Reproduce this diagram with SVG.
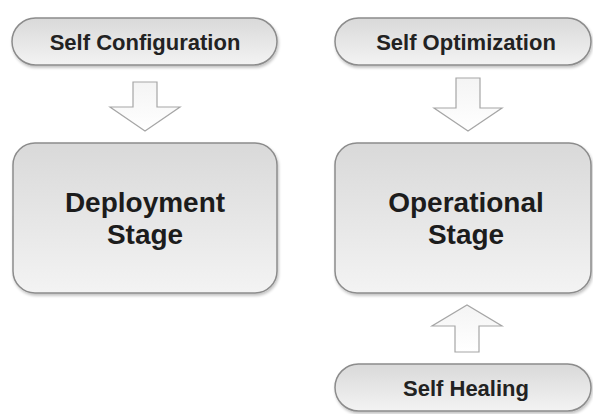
<svg xmlns="http://www.w3.org/2000/svg" width="593" height="414" viewBox="0 0 593 414">
  <defs>
    <linearGradient id="g" x1="0" y1="0" x2="0" y2="1">
      <stop offset="0" stop-color="#d9d9d9"/>
      <stop offset="1" stop-color="#f3f3f3"/>
    </linearGradient>
    <linearGradient id="ga" x1="0" y1="0" x2="0" y2="1">
      <stop offset="0" stop-color="#f4f4f4"/>
      <stop offset="1" stop-color="#ffffff"/>
    </linearGradient>
    <filter id="sh" x="-10%" y="-10%" width="120%" height="130%">
      <feGaussianBlur in="SourceAlpha" stdDeviation="1.5"/>
      <feOffset dx="1" dy="2" result="b"/>
      <feComponentTransfer><feFuncA type="linear" slope="0.25"/></feComponentTransfer>
      <feMerge><feMergeNode/><feMergeNode in="SourceGraphic"/></feMerge>
    </filter>
  </defs>
  <style>
    .box { fill: url(#g); stroke: #8c8c8c; stroke-width: 1.5; filter: url(#sh); }
    .arr { fill: url(#ga); stroke: #a6a6a6; stroke-width: 1.2; stroke-linejoin: miter; }
    .pill { font-family: "Liberation Sans", Arial, sans-serif; font-weight: bold; font-size: 22px; fill: #222222; text-anchor: middle; }
    .big { font-family: "Liberation Sans", Arial, sans-serif; font-weight: bold; font-size: 28px; fill: #1c1c1c; text-anchor: middle; }
  </style>
  <rect width="593" height="414" fill="#ffffff"/>

  <g id="connectors">
    <path class="arr" d="M133,82 H157 V107 H180 L145,131 L110,107 H133 Z"/>
    <path class="arr" d="M456,78 H480 V108 H502 L468,131 L434,108 H456 Z"/>
    <path class="arr" d="M455,352 H479 V326 H502 L467,305 L432,326 H455 Z"/>
  </g>

  <g id="self-configuration">
    <rect class="box" x="12" y="18" width="265" height="47" rx="23.5"/>
    <text class="pill" x="145" y="50">Self Configuration</text>
  </g>

  <g id="self-optimization">
    <rect class="box" x="335" y="18" width="256" height="47" rx="23.5"/>
    <text class="pill" x="466" y="50">Self Optimization</text>
  </g>

  <g id="deployment-stage">
    <rect class="box" x="13" y="143" width="264" height="150" rx="22"/>
    <text class="big" x="145" y="212">Deployment</text>
    <text class="big" x="145" y="244">Stage</text>
  </g>

  <g id="operational-stage">
    <rect class="box" x="335" y="143" width="256" height="150" rx="22"/>
    <text class="big" x="466" y="212">Operational</text>
    <text class="big" x="466" y="244">Stage</text>
  </g>

  <g id="self-healing">
    <rect class="box" x="335" y="364" width="256" height="47" rx="23.5"/>
    <text class="pill" x="466" y="396">Self Healing</text>
  </g>
</svg>
